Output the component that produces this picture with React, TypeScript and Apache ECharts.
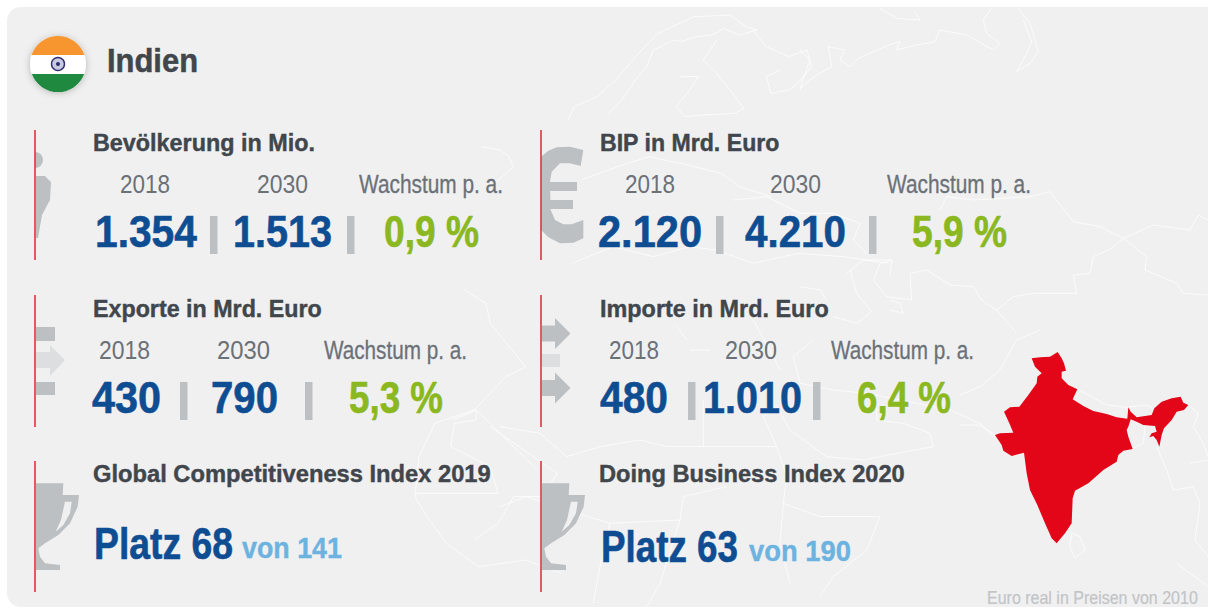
import React, { useEffect, useRef } from "react";
import * as echarts from "echarts";

const country = "Indien";
const footnote = "Euro real in Preisen von 2010";
const panelTitles = ["Bevölkerung in Mio.", "BIP in Mrd. Euro", "Exporte in Mrd. Euro", "Importe in Mrd. Euro"];
const yearLabels = ["2018", "2030"];
const growthLabel = "Wachstum p. a.";
const values2018 = ["1.354", "2.120", "430", "480"];
const values2030 = ["1.513", "4.210", "790", "1.010"];
const growth = ["0,9 %", "5,9 %", "5,3 %", "6,4 %"];
const rankTitles = ["Global Competitiveness Index 2019", "Doing Business Index 2020"];
const ranks = ["Platz 68", "Platz 63"];
const rankOf = ["von 141", "von 190"];

// layout: [left, right] of each text
const titleX = [[93, 315], [600, 780], [93, 322], [600, 829]];
const titleY = [143.5, 143.5, 309, 309];
const y18X = [[120, 170], [625, 675], [99, 150], [609, 659]];
const y30X = [[257, 308], [770, 821], [217, 270], [725, 777]];
const gLabelX = [[359, 503], [887, 1031], [324, 467], [831, 974]];
const labelY = [184.5, 184.5, 350, 350];
const v18X = [[95, 197], [598, 702], [92, 161], [600, 668]];
const v30X = [[233, 332], [745, 846], [211, 278], [703, 802]];
const gX = [[384, 479], [912, 1007], [349, 443], [857, 951]];
const valueY = [231.5, 231.5, 397.5, 397.5];
const sep1X = [210, 716, 180, 688];
const sep2X = [347, 869, 305, 813];
const sepY = [216, 216, 382, 382];

const BLUE = "#0f4d92";
const GREEN = "#8ab81e";
const TITLE = "#40464c";
const GREY = "#6b7177";
const ICON = "#bcc0c2";
const ICON_LIGHT = "#dcdedf";
const RED = "#e2333f";
const PANEL = "#f0f0f1";

const ctx = document.createElement("canvas").getContext("2d")!;
const NARROW = '"Liberation Sans Narrow","Liberation Sans"';
const WIDE = '"Liberation Sans"';

function fit(text: string, x0: number, x1: number, yc: number, size: number, weight: string, fill: string, family: string, heavy = 0) {
  ctx.font = `${weight} ${size}px ${family}`;
  const w = ctx.measureText(text).width;
  return {
    type: "text", x: x0, y: yc, scaleX: (x1 - x0) / w, z: 10,
    style: {
      text, fontSize: size, fontWeight: weight, fontFamily: family, fill,
      verticalAlign: "middle", align: "left",
      ...(heavy ? { stroke: fill, lineWidth: heavy } : {}),
    },
  };
}

// India outline and map lines, in pixels of enlarged crops
const indiaOutline = [[293,66],[305,85],[312,100],[318,122],[305,125],[305,145],[325,165],[352,178],[338,208],[370,228],[400,243],[440,252],[470,262],[502,266],[505,232],[512,245],[530,262],[575,255],[583,235],[605,215],[635,205],[662,200],[670,218],[685,225],[672,240],[650,245],[635,270],[612,295],[605,315],[598,350],[590,330],[580,318],[568,322],[575,310],[590,305],[585,288],[550,285],[530,275],[512,268],[505,290],[500,300],[505,320],[518,357],[490,362],[475,375],[470,395],[430,420],[385,460],[345,482],[338,505],[335,580],[315,610],[290,640],[275,625],[255,580],[232,525],[210,480],[200,430],[192,368],[155,378],[130,362],[125,345],[105,315],[120,310],[160,308],[148,280],[132,245],[150,232],[178,230],[205,195],[230,160],[232,140],[245,130],[225,110],[215,85],[240,82],[270,80]];
const mapEast = [
  [[240,0],[170,30],[120,120],[60,170],[0,195]],
  [[0,285],[60,285],[105,315]],
  [[355,178],[440,225],[500,232],[560,225],[590,240]],
  [[685,225],[715,250],[700,290],[730,340],[744,380]],
  [[590,350],[620,420],[640,480],[700,470],[720,520],[705,630],[744,680]],
  [[650,700],[744,770]],
  [[690,400],[744,390]],
  [[335,610],[360,620],[375,660],[345,685],[330,650],[335,610]],
  [[555,285],[550,340],[518,357]],
];
const mapNorth = [
  [[150,360],[165,320],[215,290],[260,235],[300,170],[350,100],[430,50],[510,45],[545,80],[570,90]],
  [[570,90],[530,105],[495,85],[470,105],[435,110],[400,125],[385,120],[340,150],[325,200],[300,240],[270,300],[240,340]],
  [[400,230],[440,230],[420,270],[390,320],[410,350],[450,345],[520,340],[540,325],[510,270],[480,220],[450,180],[480,120]],
  [[560,90],[590,140],[640,170],[680,150],[690,200],[660,250],[640,270],[600,280],[590,230],[620,210]],
  [[160,790],[250,740],[340,770],[420,740],[480,750],[560,790],[660,760],[760,770],[860,790]],
  [[180,540],[260,500],[330,470],[400,490],[490,520],[530,560],[600,590]],
  [[-20,560],[30,500],[20,470],[0,450],[-40,440]],
];
const mapFarNorth = [
  [[0,150],[30,180],[5,250],[0,270]],
  [[0,265],[50,225],[95,200],[85,140],[135,150],[120,180],[150,200],[175,175],[280,130],[300,125],[290,150],[350,135],[405,125],[420,90],[500,105],[580,150],[600,130],[560,100],[550,60],[575,25]],
  [[655,25],[690,70],[705,120],[715,155],[690,190],[650,215],[680,160],[695,125],[670,60]],
  [[240,25],[290,55],[360,60],[345,35]],
  [[-200,600],[-100,590],[0,640],[100,640],[180,670],[160,720],[200,760]],
  [[420,630],[440,590],[520,600],[690,590],[750,575],[820,665],[900,680],[970,715],[1060,675],[1170,690],[1195,645],[1224,660]],
  [[970,715],[1040,770],[1035,810],[1130,850],[1150,880],[1224,885]],
  [[970,715],[935,745],[880,770],[870,820],[820,825],[830,880],[700,880],[640,890],[590,930],[650,1000]],
  [[330,820],[380,810],[450,855],[520,860],[545,900],[590,930]],
  [[330,820],[335,900],[260,890],[220,840],[240,790],[275,780],[270,830]],
  [[140,820],[190,780],[275,780]],
  [[150,810],[170,880],[215,935],[170,970],[100,950]],
  [[270,900],[300,910],[310,940],[270,930]],
  [[0,860],[60,870],[80,900]],
];
const mapWest = [
  [[1175,0],[1230,40],[1240,100],[1330,230],[1280,260],[1200,360],[1100,400],[1060,500],[1050,620],[1080,680],[1130,760],[1210,830],[1330,810],[1420,850]],
  [[1145,390],[1205,360],[1205,390],[1150,400],[1140,470],[1240,530],[1260,610],[1050,610]],
  [[1240,410],[1410,550],[1370,620],[1300,620],[1260,700],[1200,750]],
  [[1205,360],[1360,540]],
];
const mapMid = [
  [[0,410],[120,430],[200,500],[300,470],[420,450],[500,470],[610,470],[610,330]],
  [[610,470],[830,470],[860,560],[850,640],[960,680],[1140,680],[1100,780],[1000,860],[960,920]],
  [[830,470],[790,380],[830,350],[870,420],[980,500],[1090,510],[1190,490],[1300,470],[1290,430],[1210,400],[1130,390],[1130,330]],
  [[940,150],[880,200],[900,280],[1000,300],[1100,310],[1250,340],[1350,360],[1440,400],[1480,440]],
  [[570,180],[630,180]],[[530,110],[560,150]],[[760,90],[820,200],[840,240]],
  [[0,650],[80,620],[200,660],[330,700],[540,690],[550,620],[680,590]],
  [[330,700],[300,830],[280,940]],[[540,690],[480,880],[440,950]],[[850,640],[840,760],[870,880]],
];
const euroC = [[160,60],[120,50],[80,52],[55,62],[33,80],[33,300],[55,322],[90,340],[130,338],[160,325],[160,270],[125,283],[100,283],[75,270],[62,240],[60,155],[65,125],[90,100],[120,100],[152,108]];
const trophyCup = [[33,70],[115,70],[113,105],[162,105],[158,140],[135,190],[100,225],[60,250],[40,265],[45,290],[60,310],[105,315],[105,330],[33,330]];
const trophyHole = [[120,125],[140,125],[135,160],[115,195],[92,215],[108,180]];

const lines = (sets: number[][][], ox: number, oy: number, sx: number, sy: number) =>
  sets.map((l) => ({
    type: "polyline", silent: true, z: 1,
    shape: { points: l.map(([x, y]) => [ox + x / sx, oy + y / sy]) },
    style: { stroke: "rgba(255,255,255,0.75)", lineWidth: 1, fill: "none" },
  }));

echarts.graphic.registerShape("flagTop", echarts.graphic.extendPath("M31.5 55 A28 28 0 0 1 84.5 55 Z", {}) as any);
echarts.graphic.registerShape("flagBottom", echarts.graphic.extendPath("M31.8 74 L84.2 74 A28 28 0 0 1 31.8 74 Z", {}) as any);

function buildGraphic() {
  const els: any[] = [];
  els.push({ type: "rect", z: 0, shape: { x: 7, y: 7, width: 1230, height: 600, r: 14 }, style: { fill: PANEL } });
  els.push(...lines(mapNorth, 500, 0, 2.215, 3));
  els.push(...lines(mapFarNorth, 800, 0, 3, 3));
  els.push(...lines(mapWest, 0, 290, 2.53, 3));
  els.push(...lines(mapMid, 500, 290, 3, 3));
  els.push(...lines(mapEast, 960, 330, 3, 3));

  // flag
  els.push({ type: "circle", z: 5, shape: { cx: 58, cy: 64, r: 28 }, style: { fill: "#fff", shadowBlur: 7, shadowColor: "rgba(0,0,0,0.25)", shadowOffsetY: 1 } });
  els.push({ type: "flagTop", z: 6, style: { fill: "#f7952f" } });
  els.push({ type: "flagBottom", z: 6, style: { fill: "#1f8a3f" } });
  els.push({ type: "circle", z: 6, shape: { cx: 58, cy: 64, r: 6.5 }, style: { fill: "#c9c9df", stroke: "#2f2f72", lineWidth: 1.4 } });
  els.push({ type: "circle", z: 6, shape: { cx: 58, cy: 64, r: 2 }, style: { fill: "#2f2f72" } });
  els.push(fit(country, 107, 198, 60.5, 33, "bold", TITLE, WIDE, 0.5));

  // red rules
  [[35, 130, 260], [541, 130, 260], [35, 295, 427], [541, 295, 427], [35, 461, 592], [541, 461, 592]].forEach(([x, a, b]) => {
    els.push({ type: "line", z: 4, shape: { x1: x, y1: a, x2: x, y2: b }, style: { stroke: RED, lineWidth: 1.6 } });
  });

  // person
  els.push({ type: "sector", z: 3, shape: { cx: 35, cy: 160, r0: 0, r: 8, startAngle: -Math.PI / 2, endAngle: Math.PI / 2 }, style: { fill: ICON } });
  els.push({ type: "polygon", z: 3, shape: { points: [[36,176],[45,176],[51,182],[50,200],[42,215],[38,238],[36,238]] }, style: { fill: ICON } });
  // euro
  els.push({ type: "polygon", z: 3, shape: { points: euroC.map(([x, y]) => [530 + x / 3, 130 + y / 3]) }, style: { fill: ICON } });
  els.push({ type: "rect", z: 3, shape: { x: 541, y: 182, width: 36, height: 9 }, style: { fill: ICON } });
  els.push({ type: "rect", z: 3, shape: { x: 541, y: 200, width: 32, height: 9 }, style: { fill: ICON } });
  // export
  els.push({ type: "rect", z: 3, shape: { x: 36, y: 327, width: 19, height: 14 }, style: { fill: ICON } });
  els.push({ type: "rect", z: 3, shape: { x: 36, y: 382, width: 19, height: 13 }, style: { fill: ICON } });
  els.push({ type: "polygon", z: 3, shape: { points: [[36,352],[50,352],[50,345],[65,360],[50,376],[50,368],[36,368]] }, style: { fill: ICON_LIGHT } });
  // import
  [333.5, 388].forEach((c) => {
    els.push({ type: "polygon", z: 3, shape: { points: [[542,c-8],[555,c-8],[555,c-15.5],[570.5,c],[555,c+15.5],[555,c+8],[542,c+8]] }, style: { fill: ICON } });
  });
  els.push({ type: "rect", z: 3, shape: { x: 542, y: 354, width: 18, height: 13 }, style: { fill: ICON_LIGHT } });
  // trophies
  [35, 541].forEach((vx) => {
    const conv = (p: number[][]) => p.map(([x, y]) => [vx + (x - 30) / 3, 460 + y / 3]);
    els.push({ type: "polygon", z: 3, shape: { points: conv(trophyCup) }, style: { fill: ICON } });
    els.push({ type: "polygon", z: 3, shape: { points: conv(trophyHole) }, style: { fill: PANEL } });
  });

  // India
  els.push({ type: "polygon", z: 5, shape: { points: indiaOutline.map(([x, y]) => [960 + x / 3, 330 + y / 3]) }, style: { fill: "#e30518" } });

  // metric panels
  panelTitles.forEach((t, i) => {
    els.push(fit(t, titleX[i][0], titleX[i][1], titleY[i], 23, "bold", TITLE, WIDE, 0.4));
    els.push(fit(yearLabels[0], y18X[i][0], y18X[i][1], labelY[i], 25, "normal", GREY, WIDE));
    els.push(fit(yearLabels[1], y30X[i][0], y30X[i][1], labelY[i], 25, "normal", GREY, WIDE));
    els.push(fit(growthLabel, gLabelX[i][0], gLabelX[i][1], labelY[i], 25, "normal", GREY, NARROW, 0.3));
    els.push(fit(values2018[i], v18X[i][0], v18X[i][1], valueY[i], 44, "bold", BLUE, NARROW, 0.6));
    els.push(fit(values2030[i], v30X[i][0], v30X[i][1], valueY[i], 44, "bold", BLUE, NARROW, 0.6));
    els.push(fit(growth[i], gX[i][0], gX[i][1], valueY[i], 44, "bold", GREEN, NARROW, 0.6));
    els.push({ type: "rect", z: 8, shape: { x: sep1X[i], y: sepY[i], width: 7.5, height: 38 }, style: { fill: ICON } });
    els.push({ type: "rect", z: 8, shape: { x: sep2X[i], y: sepY[i], width: 7.5, height: 38 }, style: { fill: ICON } });
  });

  // rank panels
  const rTitleX = [[93, 491], [599, 905]];
  const rankX = [[94, 233], [601, 738]];
  const ofX = [[242, 342], [749, 851]];
  const rankY = [544, 547];
  const ofY = [547.5, 550.5];
  rankTitles.forEach((t, i) => {
    els.push(fit(t, rTitleX[i][0], rTitleX[i][1], 474.5, 23, "bold", TITLE, WIDE, 0.4));
    els.push(fit(ranks[i], rankX[i][0], rankX[i][1], rankY[i], 44, "bold", BLUE, NARROW, 0.6));
    els.push(fit(rankOf[i], ofX[i][0], ofX[i][1], ofY[i], 30, "bold", "#6db3e0", NARROW, 0.4));
  });

  els.push(fit(footnote, 987, 1198, 598, 18, "normal", "#c2c4c6", NARROW, 0.2));
  return els;
}

export default function App() {
  const ref = useRef<HTMLDivElement>(null);
  useEffect(() => {
    document.body.style.margin = "0";
    document.body.style.background = "#fff";
    const chart = echarts.init(ref.current!, null, { renderer: "svg" });
    chart.setOption({ animation: false, backgroundColor: "#fff", graphic: { elements: buildGraphic() } });
    return () => chart.dispose();
  }, []);
  return <div ref={ref} style={{ width: 1208, height: 608, overflow: "hidden" }} />;
}
